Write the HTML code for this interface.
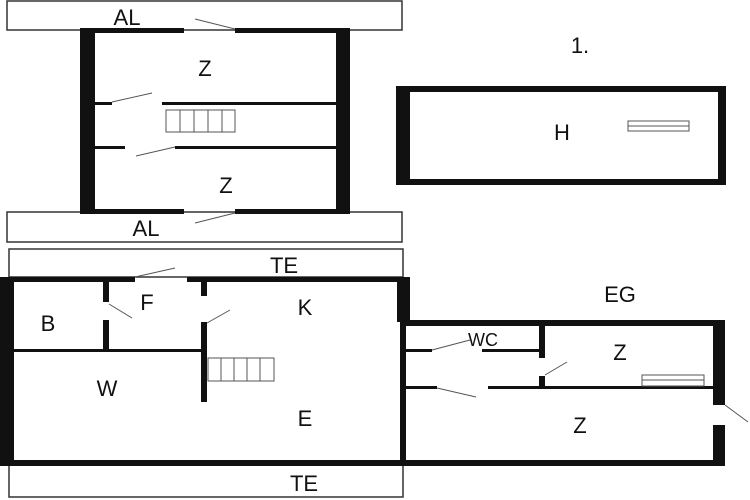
<!DOCTYPE html>
<html><head><style>
body{margin:0;background:#fff}
svg{display:block}
text{font-family:"Liberation Sans",sans-serif;font-size:22px;fill:#111;text-anchor:middle}
</style></head><body>
<svg width="750" height="500" viewBox="0 0 750 500">
<g fill="none" stroke="#333" stroke-width="1.5">
<rect x="7" y="1" width="395" height="29"/>
<rect x="7" y="212" width="395" height="30"/>
<rect x="9" y="249" width="394" height="28"/>
<rect x="9" y="464" width="394" height="33"/>
</g>
<g fill="#111">
<!-- upper building -->
<rect x="80" y="28" width="15" height="186"/>
<rect x="336" y="28" width="14" height="186"/>
<rect x="80" y="28" width="104" height="5"/>
<rect x="235" y="28" width="115" height="5"/>
<rect x="80" y="209" width="104" height="5"/>
<rect x="235" y="209" width="115" height="5"/>
<rect x="95" y="102" width="17" height="3"/>
<rect x="162" y="102" width="174" height="3"/>
<rect x="95" y="146" width="30" height="3"/>
<rect x="175" y="146" width="161" height="3"/>
<!-- H -->
<rect x="396" y="86" width="330" height="6"/>
<rect x="396" y="179" width="330" height="6"/>
<rect x="396" y="86" width="14" height="99"/>
<rect x="718" y="86" width="8" height="99"/>
<!-- main lower -->
<rect x="0" y="277" width="14" height="189"/>
<rect x="0" y="277" width="135" height="5"/>
<rect x="187" y="277" width="223" height="5"/>
<rect x="397" y="277" width="13" height="45"/>
<rect x="400" y="320" width="6" height="146"/>
<rect x="0" y="460" width="725" height="6"/>
<rect x="103" y="282" width="6" height="20"/>
<rect x="103" y="320" width="6" height="32"/>
<rect x="201" y="282" width="6" height="14"/>
<rect x="201" y="322" width="6" height="80"/>
<rect x="14" y="349" width="190" height="3"/>
<!-- right section -->
<rect x="400" y="320" width="325" height="6"/>
<rect x="713" y="320" width="12" height="85"/>
<rect x="713" y="425" width="12" height="41"/>
<rect x="539" y="326" width="6" height="32"/>
<rect x="539" y="376" width="6" height="12"/>
<rect x="406" y="349" width="26" height="3"/>
<rect x="482" y="349" width="60" height="3"/>
<rect x="406" y="386" width="31" height="3"/>
<rect x="488" y="386" width="225" height="3"/>
</g>
<g stroke="#555" stroke-width="1" fill="none">
<line x1="195" y1="19" x2="235" y2="29"/>
<line x1="112" y1="102" x2="152" y2="93"/>
<line x1="136" y1="156" x2="175" y2="147"/>
<line x1="195" y1="223" x2="235" y2="213"/>
<line x1="135" y1="277" x2="175" y2="268"/>
<line x1="109" y1="304" x2="132" y2="318"/>
<line x1="207" y1="323" x2="230" y2="310"/>
<line x1="432" y1="350" x2="470" y2="340"/>
<line x1="545" y1="375" x2="567" y2="362"/>
<line x1="437" y1="388" x2="476" y2="397"/>
<line x1="725" y1="405" x2="748" y2="422"/>
<rect x="166" y="110" width="69" height="22"/>
<line x1="180" y1="110" x2="180" y2="132"/><line x1="194" y1="110" x2="194" y2="132"/><line x1="208" y1="110" x2="208" y2="132"/><line x1="222" y1="110" x2="222" y2="132"/>
<rect x="208" y="358" width="66" height="23"/>
<line x1="221" y1="358" x2="221" y2="381"/><line x1="234" y1="358" x2="234" y2="381"/><line x1="247" y1="358" x2="247" y2="381"/><line x1="260" y1="358" x2="260" y2="381"/>
<rect x="628" y="121" width="61" height="10"/><line x1="628" y1="126" x2="689" y2="126"/>
<rect x="642" y="375" width="62" height="11"/><line x1="642" y1="380" x2="704" y2="380"/>
</g>
<text x="127" y="25">AL</text>
<text x="146" y="236">AL</text>
<text x="205" y="76">Z</text>
<text x="226" y="193">Z</text>
<text x="580" y="53">1.</text>
<text x="562" y="140">H</text>
<text x="284" y="273">TE</text>
<text x="304" y="491">TE</text>
<text x="48" y="331">B</text>
<text x="147" y="310">F</text>
<text x="305" y="315">K</text>
<text x="107" y="396">W</text>
<text x="305" y="426">E</text>
<text x="620" y="302">EG</text>
<text x="483" y="346" style="font-size:18px">WC</text>
<text x="620" y="360">Z</text>
<text x="580" y="433">Z</text>
</svg>
</body></html>
